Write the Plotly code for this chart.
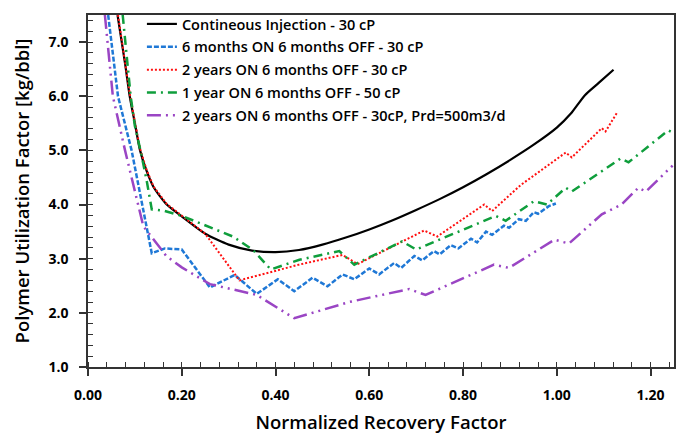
import plotly.graph_objects as go

# Continuous injection - 30 cP
cont_x = [0.063, 0.072, 0.080, 0.089, 0.100, 0.111, 0.125, 0.140, 0.168, 0.200, 0.250, 0.300, 0.350, 0.400, 0.450,
          0.500, 0.550, 0.600, 0.650, 0.700, 0.750, 0.800, 0.850, 0.900, 0.950, 1.000, 1.030, 1.060, 1.090, 1.121]
cont_y = [7.50, 7.00, 6.55, 6.00, 5.50, 5.00, 4.62, 4.32, 4.00, 3.78, 3.46, 3.26, 3.15, 3.12, 3.16,
          3.26, 3.39, 3.54, 3.71, 3.90, 4.10, 4.32, 4.56, 4.82, 5.10, 5.42, 5.68, 6.02, 6.25, 6.49]

# 6 months ON 6 months OFF - 30 cP
m6_x = [0.043, 0.064, 0.093, 0.115, 0.136, 0.164, 0.200, 0.260, 0.313, 0.360, 0.405, 0.440, 0.479, 0.511, 0.543,
        0.568, 0.600, 0.621, 0.653, 0.668, 0.696, 0.713, 0.738, 0.750, 0.774, 0.790, 0.817, 0.830, 0.849, 0.862,
        0.887, 0.898, 0.919, 0.934, 0.951, 0.960, 0.983, 0.998]
m6_y = [7.50, 6.00, 5.00, 4.00, 3.10, 3.19, 3.17, 2.47, 2.70, 2.35, 2.62, 2.40, 2.65, 2.49, 2.71,
        2.62, 2.82, 2.71, 2.92, 2.83, 3.05, 2.97, 3.14, 3.08, 3.25, 3.19, 3.37, 3.30, 3.50, 3.44,
        3.61, 3.57, 3.73, 3.70, 3.86, 3.83, 3.97, 4.02]

# 2 years ON 6 months OFF - 30 cP
y2_x = [0.064, 0.072, 0.080, 0.089, 0.100, 0.111, 0.125, 0.140, 0.168, 0.200, 0.250, 0.323, 0.450, 0.543, 0.575,
        0.717, 0.745, 0.845, 0.862, 0.923, 1.019, 1.032, 1.096, 1.104, 1.128]
y2_y = [7.50, 7.05, 6.58, 6.05, 5.53, 5.03, 4.64, 4.33, 4.01, 3.79, 3.46, 2.60, 2.89, 3.07, 2.90,
        3.52, 3.41, 4.00, 3.88, 4.36, 4.96, 4.87, 5.41, 5.35, 5.69]

# 1 year ON 6 months OFF - 50 cP
y1_x = [0.074, 0.091, 0.100, 0.112, 0.125, 0.136, 0.160, 0.200, 0.309, 0.352, 0.390, 0.451, 0.536, 0.568, 0.670,
        0.700, 0.870, 0.891, 0.951, 0.979, 1.019, 1.032, 1.136, 1.153, 1.238, 1.247]
y1_y = [7.50, 6.00, 5.45, 5.00, 4.45, 3.91, 3.89, 3.79, 3.41, 3.16, 2.80, 2.98, 3.14, 2.89, 3.32,
        3.17, 3.79, 3.70, 4.06, 4.00, 4.31, 4.24, 4.85, 4.78, 5.37, 5.33]

# 2 years ON 6 months OFF - 30cP, Prd=500m3/d
p_x = [0.036, 0.053, 0.079, 0.107, 0.118, 0.167, 0.200, 0.260, 0.360, 0.440, 0.557, 0.685, 0.720, 0.866, 0.898,
       0.995, 1.026, 1.096, 1.138, 1.174, 1.190, 1.247]
p_y = [7.50, 6.00, 5.00, 4.00, 3.60, 3.05, 2.84, 2.53, 2.33, 1.90, 2.20, 2.44, 2.33, 2.89, 2.83,
       3.35, 3.28, 3.82, 4.00, 4.31, 4.24, 4.72]

names = ["Contineous Injection - 30 cP",
         "6 months ON 6 months OFF - 30 cP",
         "2 years ON 6 months OFF - 30 cP",
         "1 year ON 6 months OFF - 50 cP",
         "2 years ON 6 months OFF - 30cP, Prd=500m3/d"]

fig = go.Figure()
fig.add_trace(go.Scatter(x=cont_x, y=cont_y, mode="lines", name=names[0], legendgroup="a",
                         line=dict(color="black", width=2.2, shape="spline", smoothing=0.6)))
fig.add_trace(go.Scatter(x=m6_x, y=m6_y, mode="lines", name=names[1], legendgroup="b",
                         line=dict(color="#1f78d6", width=2.5, dash="5px,2px")))
fig.add_trace(go.Scatter(x=y2_x, y=y2_y, mode="lines", name=names[2], legendgroup="c",
                         line=dict(color="#ff1010", width=2, dash="2px,2px")))
fig.add_trace(go.Scatter(x=y1_x, y=y1_y, mode="lines", name=names[3], legendgroup="d",
                         line=dict(color="#0f9e3c", width=2.5, dash="9px,5px,2px,5px")))
fig.add_trace(go.Scatter(x=p_x, y=p_y, mode="lines", name=names[4], legendgroup="e",
                         line=dict(color="#9a45c4", width=2.5, dash="14px,5px,2px,5px,2px,5px")))

axis_common = dict(showline=True, linecolor="#333", linewidth=1.5, mirror=True,
                   showgrid=False, zeroline=False, ticks="outside", ticklen=7,
                   tickcolor="#333", tickwidth=1.5, automargin=False,
                   tickfont=dict(family="Open Sans", size=14, color="black", weight="bold"))

fig.update_xaxes(range=[0, 1.25], dtick=0.2, tick0=0, tickformat=".2f", ticklabelstandoff=7,
                 minor=dict(dtick=0.04, ticks="inside", ticklen=5, tickcolor="#333", tickwidth=1.2),
                 title=dict(text="Normalized Recovery Factor", standoff=14,
                            font=dict(family="Open Sans", size=18.5, color="black", weight=600)),
                 **axis_common)
fig.update_yaxes(range=[1.0, 7.5], dtick=1.0, tick0=1.0, tickformat=".1f", ticklabelstandoff=8,
                 minor=dict(dtick=0.2, ticks="inside", ticklen=5, tickcolor="#333", tickwidth=1.2),
                 title=dict(text="Polymer Utilization Factor [kg/bbl]", standoff=14,
                            font=dict(family="Open Sans", size=18.5, color="black", weight=600)),
                 **axis_common)

# page body has an 8px margin, so the figure is sized to fit the 694x437 window
fig.update_layout(
    width=686, height=429,
    margin=dict(l=80, r=20, t=0, b=70),
    paper_bgcolor="white", plot_bgcolor="white",
    legend=dict(x=0.092, y=1.02, xanchor="left", yanchor="top",
                bgcolor="rgba(0,0,0,0)", tracegroupgap=1, itemwidth=30,
                font=dict(family="Open Sans", size=14.5, color="black", weight=600)),
)

fig.write_html("out.html")
